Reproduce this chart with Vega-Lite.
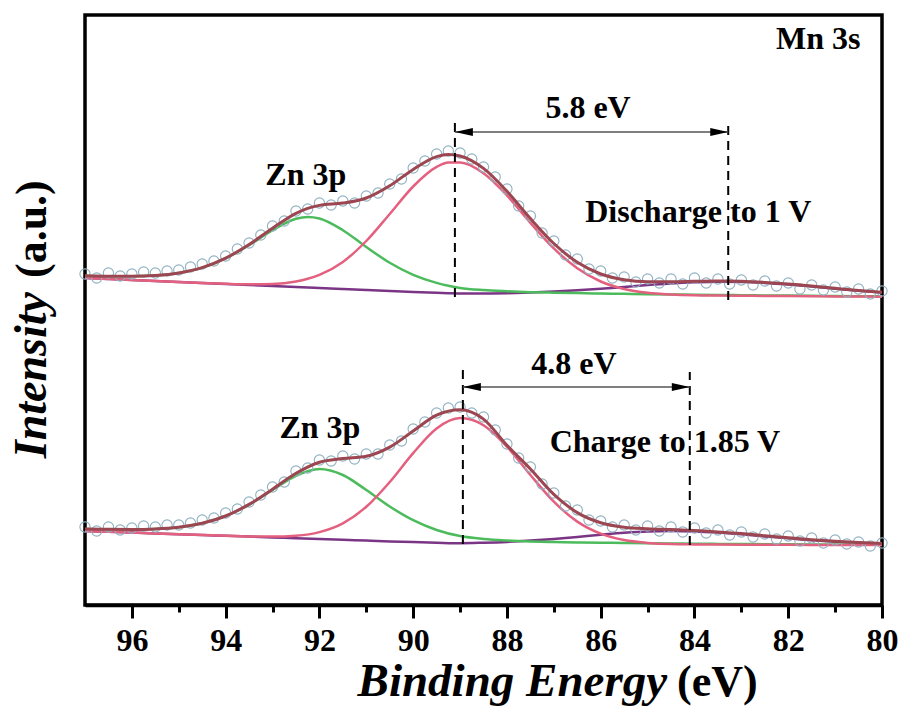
{
  "$schema": "https://vega.github.io/schema/vega-lite/v6.json",
  "width": 797,
  "height": 590,
  "autosize": {"type": "none"},
  "padding": {"left": 85, "top": 15, "right": 22, "bottom": 113},
  "background": "white",
  "config": {"view": {"stroke": "black", "strokeWidth": 3.5}, "font": "Liberation Serif, Times New Roman, Times, serif"},
  "datasets": {
    "curves": [
      {"E":97,"scan":"Discharge to 1 V","fit":329.2,"zn3p":329.2,"mn3s":327,"satellite":327},
      {"E":96.5,"scan":"Discharge to 1 V","fit":328.8,"zn3p":328.8,"mn3s":326,"satellite":326},
      {"E":96,"scan":"Discharge to 1 V","fit":328.8,"zn3p":328.8,"mn3s":325,"satellite":325},
      {"E":95.5,"scan":"Discharge to 1 V","fit":329.6,"zn3p":329.6,"mn3s":324,"satellite":324},
      {"E":95,"scan":"Discharge to 1 V","fit":332.1,"zn3p":332.1,"mn3s":323,"satellite":323},
      {"E":94.5,"scan":"Discharge to 1 V","fit":337.4,"zn3p":337.4,"mn3s":322,"satellite":322},
      {"E":94,"scan":"Discharge to 1 V","fit":346.9,"zn3p":346.7,"mn3s":321.2,"satellite":321},
      {"E":93.5,"scan":"Discharge to 1 V","fit":360.5,"zn3p":359.8,"mn3s":320.7,"satellite":320},
      {"E":93,"scan":"Discharge to 1 V","fit":376.8,"zn3p":374.8,"mn3s":321,"satellite":319},
      {"E":92.5,"scan":"Discharge to 1 V","fit":391.7,"zn3p":386.2,"mn3s":323.5,"satellite":318},
      {"E":92.25,"scan":"Discharge to 1 V","fit":396.7,"zn3p":388,"mn3s":326.2,"satellite":317.5},
      {"E":92,"scan":"Discharge to 1 V","fit":399.6,"zn3p":386.5,"mn3s":330.1,"satellite":317},
      {"E":91.5,"scan":"Discharge to 1 V","fit":401.9,"zn3p":374.8,"mn3s":343.1,"satellite":316},
      {"E":91,"scan":"Discharge to 1 V","fit":407,"zn3p":358,"mn3s":364,"satellite":315},
      {"E":90.5,"scan":"Discharge to 1 V","fit":419.2,"zn3p":342.2,"mn3s":391,"satellite":314},
      {"E":90,"scan":"Discharge to 1 V","fit":435.6,"zn3p":330.1,"mn3s":418.5,"satellite":313},
      {"E":89.5,"scan":"Discharge to 1 V","fit":448.4,"zn3p":322.1,"mn3s":438.1,"satellite":312.2},
      {"E":89.25,"scan":"Discharge to 1 V","fit":450.5,"zn3p":319.3,"mn3s":442.5,"satellite":311.8},
      {"E":89,"scan":"Discharge to 1 V","fit":449,"zn3p":317.1,"mn3s":442.5,"satellite":311.4},
      {"E":88.5,"scan":"Discharge to 1 V","fit":436.6,"zn3p":314.9,"mn3s":431.8,"satellite":311.5},
      {"E":88,"scan":"Discharge to 1 V","fit":413.7,"zn3p":313.7,"mn3s":409.6,"satellite":311.8},
      {"E":87.5,"scan":"Discharge to 1 V","fit":386.4,"zn3p":312.8,"mn3s":382.2,"satellite":312.4},
      {"E":87,"scan":"Discharge to 1 V","fit":361.5,"zn3p":312.3,"mn3s":356.6,"satellite":313.4},
      {"E":86.5,"scan":"Discharge to 1 V","fit":342.7,"zn3p":311.9,"mn3s":336.7,"satellite":314.7},
      {"E":86,"scan":"Discharge to 1 V","fit":331,"zn3p":311.5,"mn3s":323.5,"satellite":316.2},
      {"E":85.5,"scan":"Discharge to 1 V","fit":325.3,"zn3p":311.2,"mn3s":316,"satellite":318.1},
      {"E":85,"scan":"Discharge to 1 V","fit":323.3,"zn3p":310.8,"mn3s":312.2,"satellite":319.9},
      {"E":84.5,"scan":"Discharge to 1 V","fit":323.3,"zn3p":310.6,"mn3s":310.5,"satellite":321.6},
      {"E":84,"scan":"Discharge to 1 V","fit":323.7,"zn3p":310.3,"mn3s":309.7,"satellite":322.7},
      {"E":83.5,"scan":"Discharge to 1 V","fit":324,"zn3p":310.1,"mn3s":309.4,"satellite":323.3},
      {"E":83,"scan":"Discharge to 1 V","fit":323.7,"zn3p":309.8,"mn3s":309.2,"satellite":323.1},
      {"E":82.5,"scan":"Discharge to 1 V","fit":322.6,"zn3p":309.6,"mn3s":309.1,"satellite":322.1},
      {"E":82,"scan":"Discharge to 1 V","fit":321,"zn3p":309.4,"mn3s":308.9,"satellite":320.5},
      {"E":81.5,"scan":"Discharge to 1 V","fit":318.9,"zn3p":309.2,"mn3s":308.8,"satellite":318.5},
      {"E":81,"scan":"Discharge to 1 V","fit":316.7,"zn3p":309,"mn3s":308.6,"satellite":316.3},
      {"E":80.5,"scan":"Discharge to 1 V","fit":314.6,"zn3p":308.8,"mn3s":308.5,"satellite":314.2},
      {"E":80,"scan":"Discharge to 1 V","fit":312.7,"zn3p":308.7,"mn3s":308.3,"satellite":312.4},
      {"E":97,"scan":"Charge to 1.85 V","fit":76,"zn3p":76,"mn3s":74,"satellite":74},
      {"E":96.5,"scan":"Charge to 1.85 V","fit":75.7,"zn3p":75.7,"mn3s":73.2,"satellite":73.2},
      {"E":96,"scan":"Charge to 1.85 V","fit":75.6,"zn3p":75.6,"mn3s":72.4,"satellite":72.4},
      {"E":95.5,"scan":"Charge to 1.85 V","fit":76.1,"zn3p":76.1,"mn3s":71.6,"satellite":71.6},
      {"E":95,"scan":"Charge to 1.85 V","fit":77.8,"zn3p":77.8,"mn3s":70.8,"satellite":70.8},
      {"E":94.5,"scan":"Charge to 1.85 V","fit":81.7,"zn3p":81.7,"mn3s":70,"satellite":70},
      {"E":94,"scan":"Charge to 1.85 V","fit":89,"zn3p":89,"mn3s":69.2,"satellite":69.2},
      {"E":93.5,"scan":"Charge to 1.85 V","fit":100.6,"zn3p":100.4,"mn3s":68.6,"satellite":68.4},
      {"E":93,"scan":"Charge to 1.85 V","fit":115.8,"zn3p":115,"mn3s":68.4,"satellite":67.6},
      {"E":92.5,"scan":"Charge to 1.85 V","fit":131.7,"zn3p":129.2,"mn3s":69.3,"satellite":66.8},
      {"E":92,"scan":"Charge to 1.85 V","fit":142.8,"zn3p":135.9,"mn3s":72.9,"satellite":66},
      {"E":91.5,"scan":"Charge to 1.85 V","fit":146.5,"zn3p":130,"mn3s":81.7,"satellite":65.2},
      {"E":91,"scan":"Charge to 1.85 V","fit":148.8,"zn3p":115,"mn3s":98.2,"satellite":64.4},
      {"E":90.5,"scan":"Charge to 1.85 V","fit":157.9,"zn3p":98.5,"mn3s":123,"satellite":63.6},
      {"E":90,"scan":"Charge to 1.85 V","fit":174,"zn3p":84.8,"mn3s":151.9,"satellite":62.9},
      {"E":89.5,"scan":"Charge to 1.85 V","fit":189.8,"zn3p":75,"mn3s":176.5,"satellite":62.3},
      {"E":89,"scan":"Charge to 1.85 V","fit":195.2,"zn3p":68.9,"mn3s":186.9,"satellite":61.8},
      {"E":88.5,"scan":"Charge to 1.85 V","fit":185.9,"zn3p":66,"mn3s":179.8,"satellite":62.3},
      {"E":88,"scan":"Charge to 1.85 V","fit":159.7,"zn3p":64.5,"mn3s":158.3,"satellite":63.1},
      {"E":87.5,"scan":"Charge to 1.85 V","fit":136,"zn3p":63.6,"mn3s":130,"satellite":64.4},
      {"E":87,"scan":"Charge to 1.85 V","fit":110.6,"zn3p":63,"mn3s":103.3,"satellite":66.1},
      {"E":86.5,"scan":"Charge to 1.85 V","fit":92.4,"zn3p":62.5,"mn3s":83.4,"satellite":68.1},
      {"E":86,"scan":"Charge to 1.85 V","fit":82.3,"zn3p":62.3,"mn3s":71.3,"satellite":70.3},
      {"E":85.5,"scan":"Charge to 1.85 V","fit":77.8,"zn3p":62,"mn3s":64.9,"satellite":72.3},
      {"E":85,"scan":"Charge to 1.85 V","fit":76.2,"zn3p":61.7,"mn3s":62.1,"satellite":73.6},
      {"E":84.5,"scan":"Charge to 1.85 V","fit":75.4,"zn3p":61.5,"mn3s":60.9,"satellite":74},
      {"E":84,"scan":"Charge to 1.85 V","fit":74.5,"zn3p":61.3,"mn3s":60.6,"satellite":73.6},
      {"E":83.5,"scan":"Charge to 1.85 V","fit":73.1,"zn3p":61.1,"mn3s":60.4,"satellite":72.4},
      {"E":83,"scan":"Charge to 1.85 V","fit":71.4,"zn3p":61,"mn3s":60.3,"satellite":70.7},
      {"E":82.5,"scan":"Charge to 1.85 V","fit":69.2,"zn3p":60.8,"mn3s":60.2,"satellite":68.6},
      {"E":82,"scan":"Charge to 1.85 V","fit":67.2,"zn3p":60.7,"mn3s":60.2,"satellite":66.7},
      {"E":81.5,"scan":"Charge to 1.85 V","fit":65.3,"zn3p":60.6,"mn3s":60.1,"satellite":64.8},
      {"E":81,"scan":"Charge to 1.85 V","fit":63.7,"zn3p":60.5,"mn3s":60,"satellite":63.2},
      {"E":80.5,"scan":"Charge to 1.85 V","fit":62.4,"zn3p":60.3,"mn3s":59.9,"satellite":62},
      {"E":80,"scan":"Charge to 1.85 V","fit":61.5,"zn3p":60.2,"mn3s":59.9,"satellite":61.1}
    ],
    "points": [
      {"E":97,"scan":"Discharge to 1 V","counts":331},{"E":96.75,"scan":"Discharge to 1 V","counts":327},{"E":96.5,"scan":"Discharge to 1 V","counts":332},{"E":96.25,"scan":"Discharge to 1 V","counts":329},
      {"E":96,"scan":"Discharge to 1 V","counts":331},{"E":95.75,"scan":"Discharge to 1 V","counts":333},{"E":95.5,"scan":"Discharge to 1 V","counts":332},{"E":95.25,"scan":"Discharge to 1 V","counts":334},
      {"E":95,"scan":"Discharge to 1 V","counts":335},{"E":94.75,"scan":"Discharge to 1 V","counts":338},{"E":94.5,"scan":"Discharge to 1 V","counts":341},{"E":94.25,"scan":"Discharge to 1 V","counts":344},
      {"E":94,"scan":"Discharge to 1 V","counts":349},{"E":93.75,"scan":"Discharge to 1 V","counts":356},{"E":93.5,"scan":"Discharge to 1 V","counts":362},{"E":93.25,"scan":"Discharge to 1 V","counts":370},
      {"E":93,"scan":"Discharge to 1 V","counts":379},{"E":92.75,"scan":"Discharge to 1 V","counts":384},{"E":92.5,"scan":"Discharge to 1 V","counts":394},{"E":92.25,"scan":"Discharge to 1 V","counts":396},
      {"E":92,"scan":"Discharge to 1 V","counts":402},{"E":91.75,"scan":"Discharge to 1 V","counts":400},{"E":91.5,"scan":"Discharge to 1 V","counts":404},{"E":91.25,"scan":"Discharge to 1 V","counts":402},
      {"E":91,"scan":"Discharge to 1 V","counts":409},{"E":90.75,"scan":"Discharge to 1 V","counts":412},{"E":90.5,"scan":"Discharge to 1 V","counts":421},{"E":90.25,"scan":"Discharge to 1 V","counts":426},
      {"E":90,"scan":"Discharge to 1 V","counts":437},{"E":89.75,"scan":"Discharge to 1 V","counts":444},{"E":89.5,"scan":"Discharge to 1 V","counts":451},{"E":89.25,"scan":"Discharge to 1 V","counts":454},
      {"E":89,"scan":"Discharge to 1 V","counts":452},{"E":88.75,"scan":"Discharge to 1 V","counts":446},{"E":88.5,"scan":"Discharge to 1 V","counts":438},{"E":88.25,"scan":"Discharge to 1 V","counts":428},
      {"E":88,"scan":"Discharge to 1 V","counts":416},{"E":87.75,"scan":"Discharge to 1 V","counts":399},{"E":87.5,"scan":"Discharge to 1 V","counts":389},{"E":87.25,"scan":"Discharge to 1 V","counts":372},
      {"E":87,"scan":"Discharge to 1 V","counts":364},{"E":86.75,"scan":"Discharge to 1 V","counts":350},{"E":86.5,"scan":"Discharge to 1 V","counts":346},{"E":86.25,"scan":"Discharge to 1 V","counts":336},
      {"E":86,"scan":"Discharge to 1 V","counts":334},{"E":85.75,"scan":"Discharge to 1 V","counts":327},{"E":85.5,"scan":"Discharge to 1 V","counts":328},{"E":85.25,"scan":"Discharge to 1 V","counts":323},
      {"E":85,"scan":"Discharge to 1 V","counts":326},{"E":84.75,"scan":"Discharge to 1 V","counts":322},{"E":84.5,"scan":"Discharge to 1 V","counts":326},{"E":84.25,"scan":"Discharge to 1 V","counts":321},
      {"E":84,"scan":"Discharge to 1 V","counts":327},{"E":83.75,"scan":"Discharge to 1 V","counts":322},{"E":83.5,"scan":"Discharge to 1 V","counts":326},{"E":83.25,"scan":"Discharge to 1 V","counts":321},
      {"E":83,"scan":"Discharge to 1 V","counts":325},{"E":82.75,"scan":"Discharge to 1 V","counts":320},{"E":82.5,"scan":"Discharge to 1 V","counts":324},{"E":82.25,"scan":"Discharge to 1 V","counts":319},
      {"E":82,"scan":"Discharge to 1 V","counts":322},{"E":81.75,"scan":"Discharge to 1 V","counts":316},{"E":81.5,"scan":"Discharge to 1 V","counts":320},{"E":81.25,"scan":"Discharge to 1 V","counts":315},
      {"E":81,"scan":"Discharge to 1 V","counts":318},{"E":80.75,"scan":"Discharge to 1 V","counts":313},{"E":80.5,"scan":"Discharge to 1 V","counts":316},{"E":80.25,"scan":"Discharge to 1 V","counts":311},
      {"E":80,"scan":"Discharge to 1 V","counts":314},
      {"E":97,"scan":"Charge to 1.85 V","counts":78},{"E":96.75,"scan":"Charge to 1.85 V","counts":74},{"E":96.5,"scan":"Charge to 1.85 V","counts":78},{"E":96.25,"scan":"Charge to 1.85 V","counts":75},
      {"E":96,"scan":"Charge to 1.85 V","counts":77},{"E":95.75,"scan":"Charge to 1.85 V","counts":79},{"E":95.5,"scan":"Charge to 1.85 V","counts":78},{"E":95.25,"scan":"Charge to 1.85 V","counts":80},
      {"E":95,"scan":"Charge to 1.85 V","counts":80},{"E":94.75,"scan":"Charge to 1.85 V","counts":82},{"E":94.5,"scan":"Charge to 1.85 V","counts":85},{"E":94.25,"scan":"Charge to 1.85 V","counts":87},
      {"E":94,"scan":"Charge to 1.85 V","counts":92},{"E":93.75,"scan":"Charge to 1.85 V","counts":96},{"E":93.5,"scan":"Charge to 1.85 V","counts":103},{"E":93.25,"scan":"Charge to 1.85 V","counts":110},
      {"E":93,"scan":"Charge to 1.85 V","counts":118},{"E":92.75,"scan":"Charge to 1.85 V","counts":123},{"E":92.5,"scan":"Charge to 1.85 V","counts":134},{"E":92.25,"scan":"Charge to 1.85 V","counts":137},
      {"E":92,"scan":"Charge to 1.85 V","counts":145},{"E":91.75,"scan":"Charge to 1.85 V","counts":144},{"E":91.5,"scan":"Charge to 1.85 V","counts":149},{"E":91.25,"scan":"Charge to 1.85 V","counts":146},
      {"E":91,"scan":"Charge to 1.85 V","counts":151},{"E":90.75,"scan":"Charge to 1.85 V","counts":151},{"E":90.5,"scan":"Charge to 1.85 V","counts":160},{"E":90.25,"scan":"Charge to 1.85 V","counts":164},
      {"E":90,"scan":"Charge to 1.85 V","counts":176},{"E":89.75,"scan":"Charge to 1.85 V","counts":183},{"E":89.5,"scan":"Charge to 1.85 V","counts":192},{"E":89.25,"scan":"Charge to 1.85 V","counts":197},
      {"E":89,"scan":"Charge to 1.85 V","counts":198},{"E":88.75,"scan":"Charge to 1.85 V","counts":192},{"E":88.5,"scan":"Charge to 1.85 V","counts":188},{"E":88.25,"scan":"Charge to 1.85 V","counts":175},
      {"E":88,"scan":"Charge to 1.85 V","counts":161},{"E":87.75,"scan":"Charge to 1.85 V","counts":147},{"E":87.5,"scan":"Charge to 1.85 V","counts":138},{"E":87.25,"scan":"Charge to 1.85 V","counts":121},
      {"E":87,"scan":"Charge to 1.85 V","counts":112},{"E":86.75,"scan":"Charge to 1.85 V","counts":99},{"E":86.5,"scan":"Charge to 1.85 V","counts":95},{"E":86.25,"scan":"Charge to 1.85 V","counts":85},
      {"E":86,"scan":"Charge to 1.85 V","counts":84},{"E":85.75,"scan":"Charge to 1.85 V","counts":78},{"E":85.5,"scan":"Charge to 1.85 V","counts":80},{"E":85.25,"scan":"Charge to 1.85 V","counts":75},
      {"E":85,"scan":"Charge to 1.85 V","counts":79},{"E":84.75,"scan":"Charge to 1.85 V","counts":74},{"E":84.5,"scan":"Charge to 1.85 V","counts":78},{"E":84.25,"scan":"Charge to 1.85 V","counts":73},
      {"E":84,"scan":"Charge to 1.85 V","counts":77},{"E":83.75,"scan":"Charge to 1.85 V","counts":72},{"E":83.5,"scan":"Charge to 1.85 V","counts":75},{"E":83.25,"scan":"Charge to 1.85 V","counts":70},
      {"E":83,"scan":"Charge to 1.85 V","counts":73},{"E":82.75,"scan":"Charge to 1.85 V","counts":68},{"E":82.5,"scan":"Charge to 1.85 V","counts":71},{"E":82.25,"scan":"Charge to 1.85 V","counts":66},
      {"E":82,"scan":"Charge to 1.85 V","counts":69},{"E":81.75,"scan":"Charge to 1.85 V","counts":64},{"E":81.5,"scan":"Charge to 1.85 V","counts":67},{"E":81.25,"scan":"Charge to 1.85 V","counts":62},
      {"E":81,"scan":"Charge to 1.85 V","counts":65},{"E":80.75,"scan":"Charge to 1.85 V","counts":61},{"E":80.5,"scan":"Charge to 1.85 V","counts":63},{"E":80.25,"scan":"Charge to 1.85 V","counts":59},
      {"E":80,"scan":"Charge to 1.85 V","counts":62}
    ],
    "labels": [
      {"E":81.36,"v":556,"text":"Mn 3s"},
      {"E":86.27,"v":487,"text":"5.8 eV"},
      {"E":83.92,"v":383,"text":"Discharge to 1 V"},
      {"E":92.29,"v":420,"text":"Zn 3p"},
      {"E":86.57,"v":231,"text":"4.8 eV"},
      {"E":84.63,"v":153,"text":"Charge to 1.85 V"},
      {"E":91.99,"v":167,"text":"Zn 3p"}
    ],
    "xtitle": [
      {"E":84.585,"v":-91,"text":"Binding Energy","part":"italic"},
      {"E":84.37,"v":-91,"text":"(eV)","part":"upright"}
    ],
    "ytitle": [
      {"E":97.83,"v":317,"text":"Intensity","part":"italic"},
      {"E":97.83,"v":317,"text":"(a.u.)","part":"upright"}
    ],
    "markers": [
      {"E":89.11,"v0":308,"v1":486},
      {"E":83.28,"v0":305,"v1":480},
      {"E":88.94,"v0":61,"v1":236},
      {"E":84.1,"v0":60,"v1":233}
    ],
    "arrows": [
      {"E1":89.11,"E2":83.28,"v":473},
      {"E1":88.94,"E2":84.1,"v":218}
    ]
  },
  "encoding": {
    "x": {
      "field": "E",
      "type": "quantitative",
      "scale": {"domain": [80, 97], "reverse": true, "nice": false, "zero": false},
      "title": null,
      "axis": {
        "values": [80,81,82,83,84,85,86,87,88,89,90,91,92,93,94,95,96],
        "labelExpr": "datum.value % 2 === 0 ? datum.label : ''",
        "tickSize": {"condition": {"test": "datum.value % 2 === 0", "value": 13}, "value": 7},
        "tickWidth": 3,
        "tickColor": "black",
        "domain": true,
        "domainColor": "black",
        "domainWidth": 3.5,
        "grid": false,
        "labelFont": "Liberation Serif, Times New Roman, Times, serif",
        "labelFontWeight": "bold",
        "labelFontSize": 32,
        "labelColor": "black",
        "labelPadding": 7,
        "labelFlush": false,
        "labelOverlap": false,
        "title": null
      }
    },
    "y": {"field": "v", "type": "quantitative", "scale": {"domain": [0, 590], "nice": false, "zero": false}, "axis": null}
  },
  "layer": [
    {
      "data": {"name": "curves"},
      "mark": {"type": "line", "color": "#7b3585", "strokeWidth": 2.5, "interpolate": "monotone"},
      "encoding": {
        "y": {"field": "satellite", "type": "quantitative", "scale": {"domain": [0, 590], "nice": false, "zero": false}, "axis": null},
        "detail": {"field": "scan"}
      }
    },
    {
      "data": {"name": "curves"},
      "mark": {"type": "line", "color": "#4cbb5c", "strokeWidth": 2.5, "interpolate": "monotone"},
      "encoding": {
        "y": {"field": "zn3p", "type": "quantitative", "scale": {"domain": [0, 590], "nice": false, "zero": false}, "axis": null},
        "detail": {"field": "scan"}
      }
    },
    {
      "data": {"name": "curves"},
      "mark": {"type": "line", "color": "#e4607f", "strokeWidth": 2.5, "interpolate": "monotone"},
      "encoding": {
        "y": {"field": "mn3s", "type": "quantitative", "scale": {"domain": [0, 590], "nice": false, "zero": false}, "axis": null},
        "detail": {"field": "scan"}
      }
    },
    {
      "data": {"name": "points"},
      "mark": {"type": "point", "filled": false, "color": "#90b1c1", "strokeWidth": 1.1, "size": 105, "opacity": 1},
      "encoding": {
        "y": {"field": "counts", "type": "quantitative", "scale": {"domain": [0, 590], "nice": false, "zero": false}, "axis": null}
      }
    },
    {
      "data": {"name": "curves"},
      "mark": {"type": "line", "color": "#9b4650", "strokeWidth": 3, "interpolate": "monotone"},
      "encoding": {
        "y": {"field": "fit", "type": "quantitative", "scale": {"domain": [0, 590], "nice": false, "zero": false}, "axis": null},
        "detail": {"field": "scan"}
      }
    },
    {
      "data": {"name": "markers"},
      "mark": {"type": "rule", "color": "black", "strokeWidth": 2, "strokeDash": [9, 6]},
      "encoding": {
        "y": {"field": "v0", "type": "quantitative", "scale": {"domain": [0, 590], "nice": false, "zero": false}, "axis": null},
        "y2": {"field": "v1"}
      }
    },
    {
      "data": {"name": "arrows"},
      "mark": {"type": "rule", "color": "#555555", "strokeWidth": 1.5},
      "encoding": {
        "x": {"field": "E1", "type": "quantitative", "scale": {"domain": [80, 97], "reverse": true, "nice": false, "zero": false}},
        "x2": {"field": "E2"}
      }
    },
    {
      "data": {"name": "arrows"},
      "mark": {"type": "point", "shape": "M0,0L1,-0.22L1,0.22Z", "filled": true, "color": "black", "size": 1296, "opacity": 1},
      "encoding": {
        "x": {"field": "E1", "type": "quantitative", "scale": {"domain": [80, 97], "reverse": true, "nice": false, "zero": false}}
      }
    },
    {
      "data": {"name": "arrows"},
      "mark": {"type": "point", "shape": "M0,0L-1,-0.22L-1,0.22Z", "filled": true, "color": "black", "size": 1296, "opacity": 1},
      "encoding": {
        "x": {"field": "E2", "type": "quantitative", "scale": {"domain": [80, 97], "reverse": true, "nice": false, "zero": false}}
      }
    },
    {
      "data": {"name": "labels"},
      "mark": {"type": "text", "font": "Liberation Serif, Times New Roman, Times, serif", "fontWeight": "bold", "fontSize": 32, "align": "center", "baseline": "alphabetic", "color": "black"},
      "encoding": {
        "text": {"field": "text"}
      }
    },
    {
      "data": {"name": "xtitle"},
      "transform": [{"filter": "datum.part === 'italic'"}],
      "mark": {"type": "text", "clip": false, "font": "Liberation Serif, Times New Roman, Times, serif", "fontWeight": "bold", "fontStyle": "italic", "fontSize": 47, "align": "right", "baseline": "alphabetic", "color": "black"},
      "encoding": {
        "text": {"field": "text"}
      }
    },
    {
      "data": {"name": "xtitle"},
      "transform": [{"filter": "datum.part === 'upright'"}],
      "mark": {"type": "text", "clip": false, "font": "Liberation Serif, Times New Roman, Times, serif", "fontWeight": "bold", "fontSize": 44, "align": "left", "baseline": "alphabetic", "color": "black"},
      "encoding": {
        "text": {"field": "text"}
      }
    },
    {
      "data": {"name": "ytitle"},
      "transform": [{"filter": "datum.part === 'italic'"}],
      "mark": {"type": "text", "clip": false, "font": "Liberation Serif, Times New Roman, Times, serif", "fontWeight": "bold", "fontStyle": "italic", "fontSize": 46, "align": "right", "baseline": "alphabetic", "angle": 270, "dx": -4, "color": "black"},
      "encoding": {
        "text": {"field": "text"}
      }
    },
    {
      "data": {"name": "ytitle"},
      "transform": [{"filter": "datum.part === 'upright'"}],
      "mark": {"type": "text", "clip": false, "font": "Liberation Serif, Times New Roman, Times, serif", "fontWeight": "bold", "fontSize": 44, "align": "left", "baseline": "alphabetic", "angle": 270, "dx": 10, "color": "black"},
      "encoding": {
        "text": {"field": "text"}
      }
    }
  ]
}
